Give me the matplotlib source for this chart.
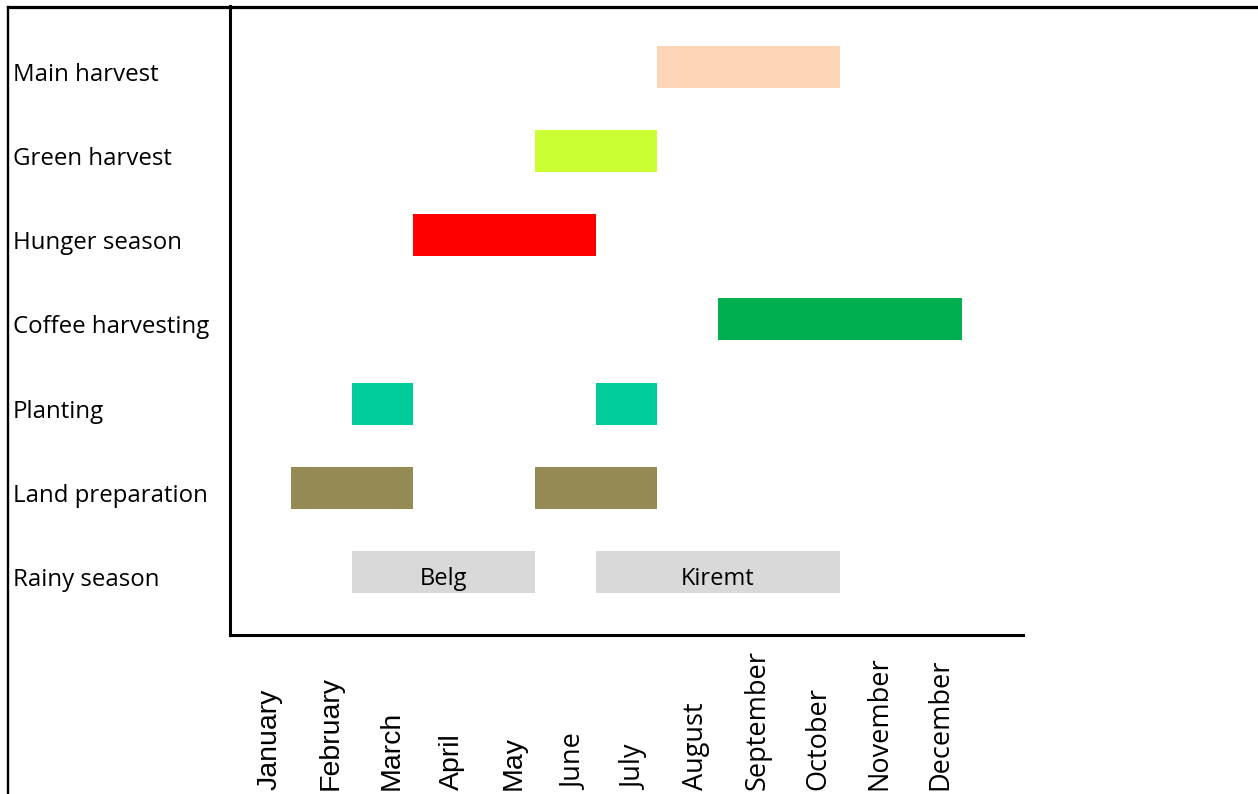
import matplotlib
matplotlib.use("Agg")
import matplotlib.pyplot as plt
from matplotlib.lines import Line2D
import matplotlib.transforms as mtransforms

# Seasonal calendar data: each activity has one or more (start_month_index, duration_in_months) spans
activities = ["Rainy season", "Land preparation", "Planting", "Coffee harvesting",
              "Hunger season", "Green harvest", "Main harvest"]
rainy_spans = [(2, 3), (6, 4)]
rainy_names = ["Belg", "Kiremt"]
land_prep_spans = [(1, 2), (5, 2)]
planting_spans = [(2, 1), (6, 1)]
coffee_spans = [(8, 4)]
hunger_spans = [(3, 3)]
green_harvest_spans = [(5, 2)]
main_harvest_spans = [(7, 3)]

months = ["January", "February", "March", "April", "May", "June",
          "July", "August", "September", "October", "November", "December"]

spans = [rainy_spans, land_prep_spans, planting_spans, coffee_spans,
         hunger_spans, green_harvest_spans, main_harvest_spans]
colors = ["#D9D9D9", "#948A54", "#00CC99", "#00B050", "#FF0000", "#CCFF33", "#FBD5B5"]

W, H = 1258, 794
fig = plt.figure(figsize=(W / 100, H / 100), dpi=100)
ax = fig.add_axes([229.5 / W, 1 - 635 / H, 793 / W, 629 / H])

for row, (row_spans, col) in enumerate(zip(spans, colors)):
    ax.broken_barh(row_spans, (row - 0.25, 0.5), facecolors=col, edgecolor="none")

# Season names written on the rainy-season bars
season_tr = ax.transData + mtransforms.ScaledTranslation(0, -13 / 100, fig.dpi_scale_trans)
for (start, dur), name in zip(rainy_spans, rainy_names):
    ax.text(start + dur / 2, 0, name, transform=season_tr, ha="center", va="baseline",
            fontsize=17, family="Open Sans", color="black")

ax.set_xlim(0, 13)
ax.set_ylim(-0.75, 6.725)
ax.set_xticks([])
ax.set_yticks([])
for side in ("top", "right"):
    ax.spines[side].set_visible(False)
for side in ("left", "bottom"):
    ax.spines[side].set_linewidth(2.2)
    ax.spines[side].set_color("black")

# Activity labels, left-aligned near the figure edge, baseline a little below each bar centre
ylab_tr = mtransforms.blended_transform_factory(fig.transFigure, ax.transData)
ylab_tr = ylab_tr + mtransforms.ScaledTranslation(0, -14 / 100, fig.dpi_scale_trans)
for row, name in enumerate(activities):
    ax.text(13 / W, row, name, transform=ylab_tr, ha="left", va="baseline",
            fontsize=17.3, family="Open Sans", color="black", clip_on=False)

# Month labels, rotated and bottom-aligned
mlab_tr = mtransforms.blended_transform_factory(ax.transData, fig.transFigure)
for i, m in enumerate(months):
    if i < 5:
        fam, fs = "Liberation Sans", 20.5
    else:
        fam, fs = "Open Sans", 19.5
    ax.text(i + 0.65, 4 / H, m, transform=mlab_tr, rotation=90,
            ha="center", va="bottom", fontsize=fs, family=fam,
            color="black", clip_on=False)

# Frame lines along the top and left edges
fig.add_artist(Line2D([8 / W, 1.0], [1 - 6.5 / H, 1 - 6.5 / H],
                      transform=fig.transFigure, color="black", lw=2.3))
fig.add_artist(Line2D([8 / W, 8 / W], [0, 1 - 6.5 / H],
                      transform=fig.transFigure, color="black", lw=1.7))

fig.savefig("out.png", dpi=100, facecolor="white")
